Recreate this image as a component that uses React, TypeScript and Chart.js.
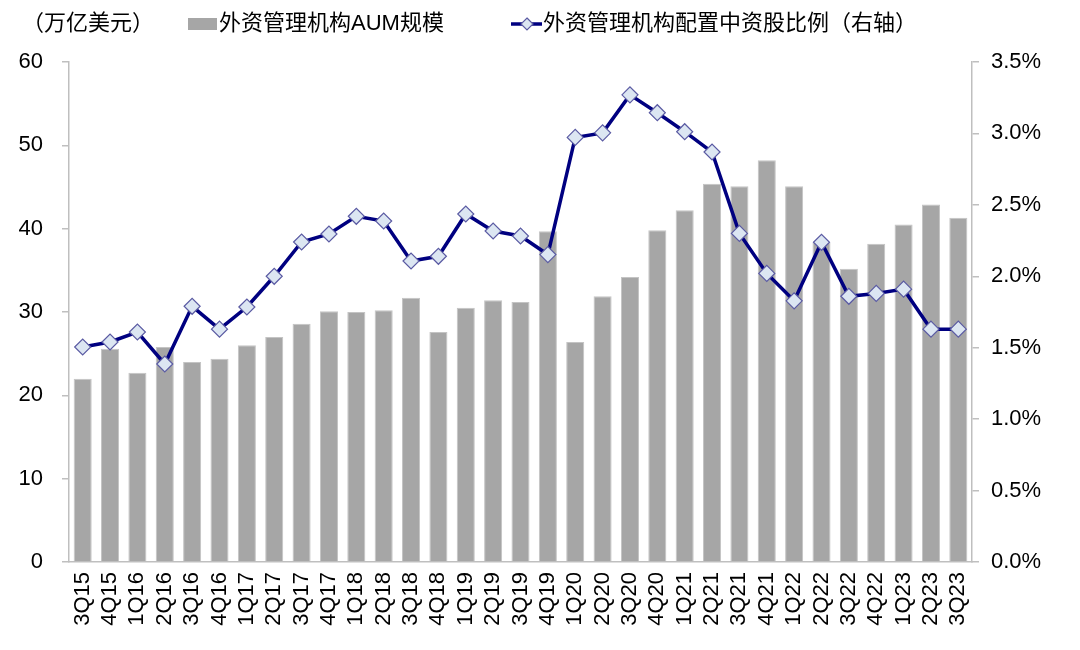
import React, { useEffect, useRef } from "react";
import { Chart, registerables } from "chart.js";

Chart.register(...registerables);

const categories = [
  "3Q15", "4Q15", "1Q16", "2Q16", "3Q16", "4Q16", "1Q17", "2Q17", "3Q17", "4Q17",
  "1Q18", "2Q18", "3Q18", "4Q18", "1Q19", "2Q19", "3Q19", "4Q19", "1Q20", "2Q20",
  "3Q20", "4Q20", "1Q21", "2Q21", "3Q21", "4Q21", "1Q22", "2Q22", "3Q22", "4Q22",
  "1Q23", "2Q23", "3Q23",
];

// 外资管理机构AUM规模（万亿美元）
const aumValues = [
  22.0, 25.6, 22.7, 25.8, 24.0, 24.4, 26.0, 27.0, 28.6, 30.1,
  30.0, 30.2, 31.7, 27.6, 30.5, 31.4, 31.2, 39.7, 26.4, 31.9,
  34.2, 39.8, 42.2, 45.4, 45.1, 48.2, 45.1, 38.3, 35.2, 38.2,
  40.5, 42.9, 41.3,
];

// 外资管理机构配置中资股比例（%）
const shareValues = [
  1.505, 1.54, 1.61, 1.386, 1.79, 1.63, 1.785, 2.0, 2.24, 2.296,
  2.42, 2.387, 2.107, 2.14, 2.436, 2.317, 2.282, 2.152, 2.972, 3.004,
  3.27, 3.145, 3.012, 2.87, 2.3, 2.02, 1.828, 2.238, 1.86, 1.88,
  1.91, 1.63, 1.63,
];

const unitLabel = "（万亿美元）";
const barLegend = "外资管理机构AUM规模";
const lineLegend = "外资管理机构配置中资股比例（右轴）";

const FONT = "'Liberation Sans', Arial, 'Noto Sans CJK SC', sans-serif";
const BAR_COLOR = "#a6a6a6";
const LINE_COLOR = "#000080";
const MARKER_FILL = "#dce6f2";
const MARKER_BORDER = "#5b5ba3";
const AXIS_COLOR = "#bfbfbf";

const legendPlugin = {
  id: "customLegend",
  afterDraw(chart: any) {
    const ctx = chart.ctx as CanvasRenderingContext2D;
    ctx.save();
    ctx.font = `22px ${FONT}`;
    ctx.fillStyle = "#000";
    ctx.textBaseline = "middle";
    ctx.textAlign = "left";
    ctx.fillText(unitLabel, 22, 24);

    ctx.fillStyle = BAR_COLOR;
    ctx.fillRect(188, 18, 29, 12);
    ctx.fillStyle = "#000";
    ctx.fillText(barLegend, 219, 24);

    ctx.strokeStyle = LINE_COLOR;
    ctx.lineWidth = 3.5;
    ctx.beginPath();
    ctx.moveTo(511, 24);
    ctx.lineTo(542, 24);
    ctx.stroke();
    const cx = 527, cy = 24, r = 6;
    ctx.beginPath();
    ctx.moveTo(cx, cy - r);
    ctx.lineTo(cx + r, cy);
    ctx.lineTo(cx, cy + r);
    ctx.lineTo(cx - r, cy);
    ctx.closePath();
    ctx.fillStyle = MARKER_FILL;
    ctx.fill();
    ctx.strokeStyle = MARKER_BORDER;
    ctx.lineWidth = 1.2;
    ctx.stroke();

    ctx.fillStyle = "#000";
    ctx.fillText(lineLegend, 543, 24);
    ctx.restore();
  },
};

export default function App() {
  const canvasRef = useRef<HTMLCanvasElement | null>(null);

  useEffect(() => {
    if (!canvasRef.current) return;
    const chart = new Chart(canvasRef.current, {
      type: "bar",
      data: {
        labels: categories,
        datasets: [
          {
            type: "line",
            label: lineLegend,
            data: shareValues,
            yAxisID: "y1",
            borderColor: LINE_COLOR,
            borderWidth: 3.5,
            pointStyle: "rectRot",
            pointRadius: 8,
            pointBackgroundColor: MARKER_FILL,
            pointBorderColor: MARKER_BORDER,
            pointBorderWidth: 1.2,
            tension: 0,
            order: 0,
          } as any,
          {
            type: "bar",
            label: barLegend,
            data: aumValues,
            yAxisID: "y",
            backgroundColor: BAR_COLOR,
            borderColor: "#c4c4c4",
            borderWidth: 1,
            categoryPercentage: 1,
            barPercentage: 0.66,
            order: 1,
          } as any,
        ],
      },
      options: {
        responsive: false,
        animation: false,
        layout: { padding: { top: 62, left: 0, right: 0, bottom: 0 } },
        plugins: {
          legend: { display: false },
          tooltip: { enabled: false },
        },
        scales: {
          x: {
            grid: { display: false, drawTicks: false },
            border: { display: true, color: AXIS_COLOR, width: 1.5 },
            ticks: {
              color: "#000",
              font: { family: FONT, size: 22 },
              minRotation: 90,
              maxRotation: 90,
              padding: 10,
              autoSkip: false,
            },
            afterFit(axis: any) {
              axis.height = 88;
            },
          },
          y: {
            position: "left",
            min: 0,
            max: 60,
            grid: { drawOnChartArea: false, drawTicks: true, tickLength: 7, color: AXIS_COLOR, lineWidth: 1.5 },
            border: { display: true, color: AXIS_COLOR, width: 1.5 },
            ticks: {
              stepSize: 10,
              color: "#000",
              font: { family: FONT, size: 22 },
              padding: 19,
            },
            afterFit(axis: any) {
              axis.width = 69;
            },
          },
          y1: {
            position: "right",
            min: 0,
            max: 3.5,
            grid: { drawOnChartArea: false, drawTicks: true, tickLength: 7, color: AXIS_COLOR, lineWidth: 1.5 },
            border: { display: true, color: AXIS_COLOR, width: 1.5 },
            ticks: {
              stepSize: 0.5,
              color: "#000",
              font: { family: FONT, size: 22 },
              padding: 12,
              callback: (v: any) => Number(v).toFixed(1) + "%",
            },
            afterFit(axis: any) {
              axis.width = 108;
            },
          },
        },
      },
      plugins: [legendPlugin],
    });
    return () => chart.destroy();
  }, []);

  return (
    <div style={{ position: "fixed", left: 0, top: 0, width: 1080, height: 650, background: "#fff" }}>
      <canvas ref={canvasRef} width={1080} height={650} style={{ width: 1080, height: 650 }} />
    </div>
  );
}
